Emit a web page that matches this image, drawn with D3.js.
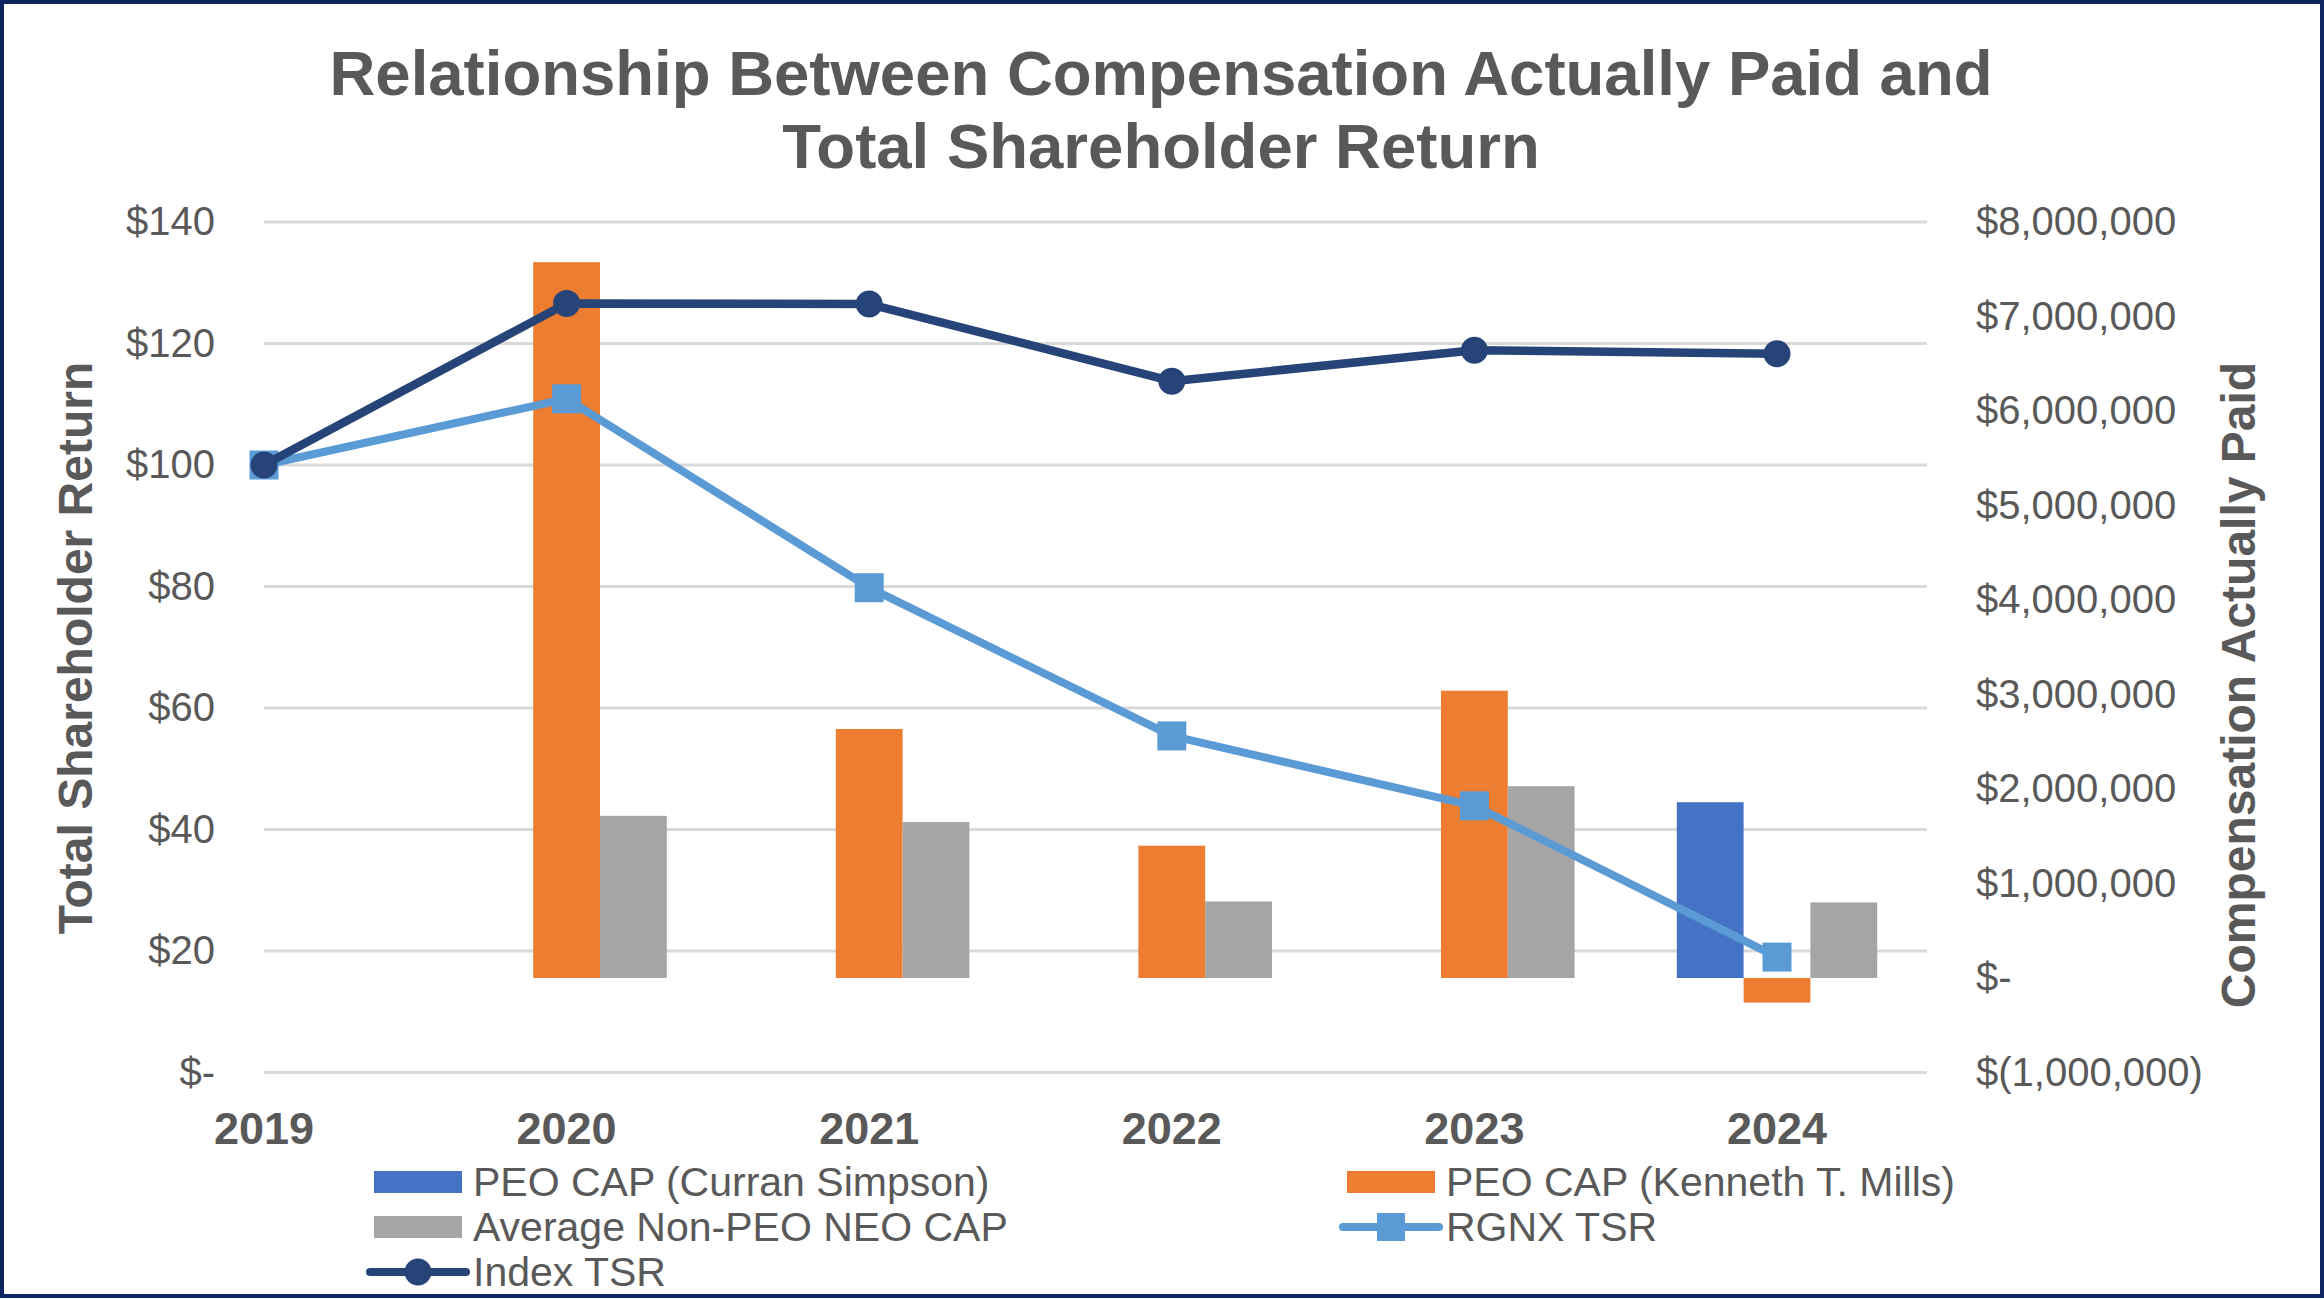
<!DOCTYPE html>
<html>
<head>
<meta charset="utf-8">
<script src="https://cdn.jsdelivr.net/npm/d3@7"></script>
<style>
  body { margin: 0; background: #fff; }
  svg { display: block; font-family: "Liberation Sans", Arial, sans-serif; }
</style>
</head>
<body>
<svg id="chart" width="2324" height="1299"></svg>
<script>
var years = ["2019", "2020", "2021", "2022", "2023", "2024"];
var barSeries = ["PEO CAP (Curran Simpson)", "PEO CAP (Kenneth T. Mills)", "Average Non-PEO NEO CAP"];
var curranCap = [null, null, null, null, null, 1860000];
var millsCap = [null, 7575000, 2635000, 1400000, 3040000, -260000];
var avgNeoCap = [null, 1716000, 1651000, 810000, 2030000, 800000];
var rgnxTsr = [100, 110.9, 79.8, 55.4, 43.9, 19.0];
var indexTsr = [100, 126.6, 126.5, 113.8, 118.9, 118.3];
var tsrTicks = [0, 20, 40, 60, 80, 100, 120, 140];
var capTicks = [-1000000, 0, 1000000, 2000000, 3000000, 4000000, 5000000, 6000000, 7000000, 8000000];

var svg = d3.select("#chart");
var W = 2324, H = 1299;
var plotLeft = 264, plotRight = 1927, plotTop = 222, plotBottom = 1072.5;
var grey = "#595959";
var barColors = ["#4472C4", "#ED7D31", "#A5A5A5"];

// frame
svg.append("rect").attr("x", 2).attr("y", 2).attr("width", W - 4).attr("height", H - 5)
  .attr("fill", "#fff").attr("stroke", "#0d2560").attr("stroke-width", 4);

// title
svg.append("text").attr("x", 1161).attr("y", 95).attr("text-anchor", "middle")
  .attr("font-size", 63.5).attr("font-weight", "bold").attr("fill", grey)
  .text("Relationship Between Compensation Actually Paid and");
svg.append("text").attr("x", 1161).attr("y", 168).attr("text-anchor", "middle")
  .attr("font-size", 63.5).attr("font-weight", "bold").attr("fill", grey)
  .text("Total Shareholder Return");

var x = d3.scalePoint().domain(years).range([plotLeft, plotLeft + 5 * 302.6]);
var yL = d3.scaleLinear().domain([0, 140]).range([plotBottom, plotTop]);
var yR = d3.scaleLinear().domain([-1000000, 8000000]).range([plotBottom, plotTop]);
var sub = d3.scaleBand().domain(barSeries).range([-100.2, 100.2]);

// gridlines
svg.append("g").selectAll("line").data(tsrTicks).enter().append("line")
  .attr("x1", plotLeft).attr("x2", plotRight)
  .attr("y1", function(d){ return yL(d); }).attr("y2", function(d){ return yL(d); })
  .attr("stroke", "#d9d9d9").attr("stroke-width", 3);

// left axis
var axL = svg.append("g").attr("transform", "translate(215,0)")
  .call(d3.axisLeft(yL).tickValues(tsrTicks).tickSize(0).tickPadding(0)
    .tickFormat(function(d){ return d === 0 ? "$-" : "$" + d; }));
axL.select(".domain").remove();
axL.selectAll("text").attr("font-size", 40).attr("fill", grey)
  .attr("font-family", "Liberation Sans, Arial, sans-serif");

// right axis
var fmt = d3.format(",");
var axR = svg.append("g").attr("transform", "translate(1976,0)")
  .call(d3.axisRight(yR).tickValues(capTicks).tickSize(0).tickPadding(0)
    .tickFormat(function(d){
      if (d === 0) return "$-";
      if (d < 0) return "$(" + fmt(-d) + ")";
      return "$" + fmt(d);
    }));
axR.select(".domain").remove();
axR.selectAll("text").attr("font-size", 40).attr("fill", grey)
  .attr("font-family", "Liberation Sans, Arial, sans-serif");

// x labels
svg.append("g").selectAll("text").data(years).enter().append("text")
  .attr("x", function(d){ return x(d); }).attr("y", 1144)
  .attr("text-anchor", "middle").attr("font-size", 45).attr("font-weight", "bold")
  .attr("fill", grey).text(function(d){ return d; });

// axis titles
svg.append("text").attr("transform", "translate(92,648) rotate(-90)")
  .attr("text-anchor", "middle").attr("font-size", 48).attr("font-weight", "bold")
  .attr("fill", grey).text("Total Shareholder Return");
svg.append("text").attr("transform", "translate(2255,685) rotate(-90)")
  .attr("text-anchor", "middle").attr("font-size", 48).attr("font-weight", "bold")
  .attr("fill", grey).text("Compensation Actually Paid");

// bars
var barData = [curranCap, millsCap, avgNeoCap];
barData.forEach(function(vals, si){
  svg.append("g").selectAll("rect").data(vals.map(function(v, i){ return {year: years[i], v: v}; })
      .filter(function(d){ return d.v !== null; }))
    .enter().append("rect")
    .attr("x", function(d){ return x(d.year) + sub(barSeries[si]); })
    .attr("width", sub.bandwidth())
    .attr("y", function(d){ return Math.min(yR(d.v), yR(0)); })
    .attr("height", function(d){ return Math.abs(yR(d.v) - yR(0)); })
    .attr("fill", barColors[si]);
});

// lines
var line = d3.line().x(function(d, i){ return x(years[i]); }).y(function(d){ return yL(d); });
svg.append("path").datum(rgnxTsr).attr("d", line).attr("fill", "none")
  .attr("stroke", "#5B9BD5").attr("stroke-width", 8).attr("stroke-linejoin", "round");
svg.append("g").selectAll("rect").data(rgnxTsr).enter().append("rect")
  .attr("x", function(d, i){ return x(years[i]) - 14.5; })
  .attr("y", function(d){ return yL(d) - 14.5; })
  .attr("width", 29).attr("height", 29).attr("fill", "#5B9BD5");

svg.append("path").datum(indexTsr).attr("d", line).attr("fill", "none")
  .attr("stroke", "#264478").attr("stroke-width", 8.5).attr("stroke-linejoin", "round");
svg.append("g").selectAll("circle").data(indexTsr).enter().append("circle")
  .attr("cx", function(d, i){ return x(years[i]); })
  .attr("cy", function(d){ return yL(d); })
  .attr("r", 13.5).attr("fill", "#264478");

// legend
var legendItems = [
  {name: barSeries[0], type: "bar", color: barColors[0], x: 374, y: 1182},
  {name: barSeries[1], type: "bar", color: barColors[1], x: 1347, y: 1182},
  {name: barSeries[2], type: "bar", color: barColors[2], x: 374, y: 1227},
  {name: "RGNX TSR", type: "square", color: "#5B9BD5", x: 1347, y: 1227},
  {name: "Index TSR", type: "circle", color: "#264478", x: 374, y: 1272}
];
var lg = svg.append("g").selectAll("g").data(legendItems).enter().append("g")
  .attr("transform", function(d){ return "translate(" + d.x + "," + d.y + ")"; });
lg.each(function(d){
  var g = d3.select(this);
  if (d.type === "bar") {
    g.append("rect").attr("x", 0).attr("y", -11).attr("width", 88).attr("height", 22).attr("fill", d.color);
  } else {
    g.append("line").attr("x1", -4).attr("x2", 92).attr("y1", 0).attr("y2", 0)
      .attr("stroke", d.color).attr("stroke-width", 8).attr("stroke-linecap", "round");
    if (d.type === "circle") {
      g.append("circle").attr("cx", 44).attr("cy", 0).attr("r", 13.5).attr("fill", d.color);
    } else {
      g.append("rect").attr("x", 30).attr("y", -14).attr("width", 28).attr("height", 28).attr("fill", d.color);
    }
  }
  g.append("text").attr("x", 99).attr("y", 14).attr("font-size", 41).attr("fill", grey).text(d.name);
});
</script>
</body>
</html>
